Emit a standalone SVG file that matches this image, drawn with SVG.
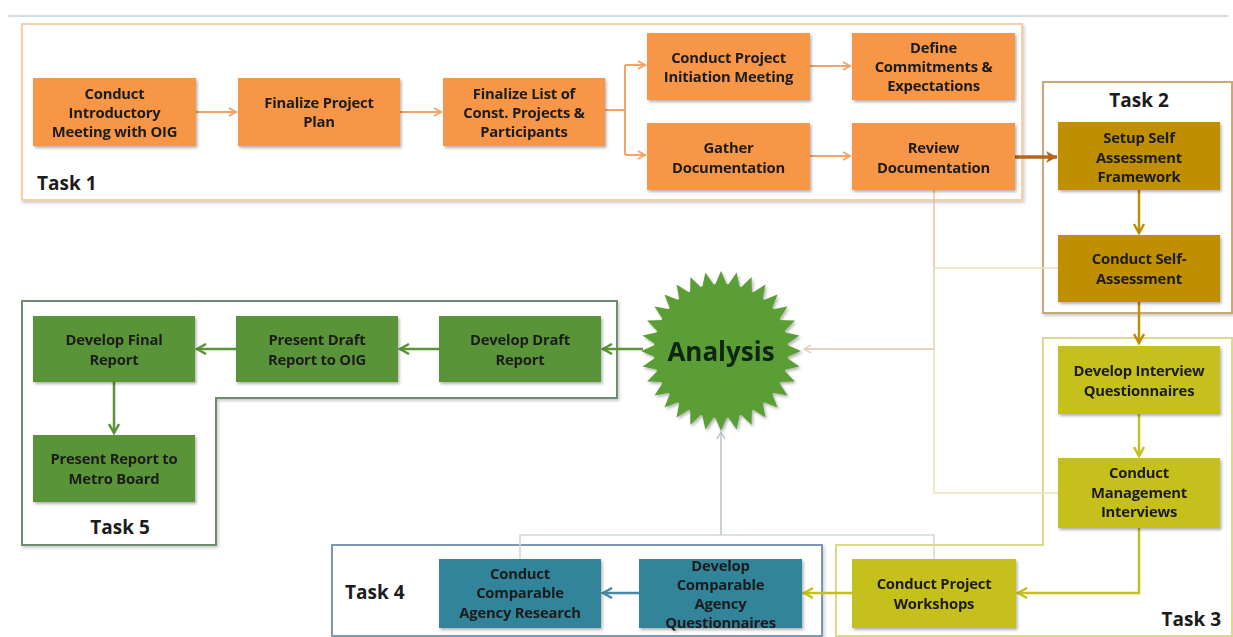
<svg xmlns="http://www.w3.org/2000/svg" xmlns:xlink="http://www.w3.org/1999/xlink" width="1233" height="637" viewBox="0 0 1233 637">
<style>
text{font-family:"Open Sans","Liberation Sans",sans-serif;font-weight:bold;fill:#1c1c1c;text-anchor:middle;dominant-baseline:central}
.t{font-size:14.8px;letter-spacing:-0.2px}
.lbl{font-size:19px}
.o{fill:#f79646}
.g2{fill:#bf8f00}
.g3{fill:#c5c01f}
.b4{fill:#31849b}
.g5{fill:#5a9437}
.box{filter:url(#sh)}
.cont{fill:#fff;stroke-width:2;filter:url(#sh2)}
.ln{fill:none}
</style>
<defs>
<filter id="sh" x="-10%" y="-10%" width="125%" height="130%"><feDropShadow dx="1.5" dy="2" stdDeviation="1.5" flood-color="#000" flood-opacity="0.3"/></filter>
<filter id="sh2" x="-5%" y="-5%" width="110%" height="115%"><feDropShadow dx="1.5" dy="2" stdDeviation="1.5" flood-color="#000" flood-opacity="0.2"/></filter>
<marker id="aO" markerWidth="10" markerHeight="10" refX="8" refY="5" orient="auto" markerUnits="userSpaceOnUse"><path d="M1,1 L8,5 L1,9" fill="none" stroke="#f4a467" stroke-width="2"/></marker>
<marker id="aBr" markerWidth="14" markerHeight="14" refX="12" refY="7" orient="auto" markerUnits="userSpaceOnUse"><path d="M1,1 L12,7 L1,13 L4,7 Z" fill="#b5651d"/></marker>
<marker id="aG2" markerWidth="12" markerHeight="12" refX="10" refY="6" orient="auto" markerUnits="userSpaceOnUse"><path d="M1,1 L10,6 L1,11" fill="none" stroke="#bf8f00" stroke-width="2.5"/></marker>
<marker id="aY" markerWidth="12" markerHeight="12" refX="10" refY="6" orient="auto" markerUnits="userSpaceOnUse"><path d="M1,1 L10,6 L1,11" fill="none" stroke="#c5c01f" stroke-width="2.5"/></marker>
<marker id="aB" markerWidth="12" markerHeight="12" refX="10" refY="6" orient="auto" markerUnits="userSpaceOnUse"><path d="M1,1 L10,6 L1,11" fill="none" stroke="#4a8aa5" stroke-width="2.5"/></marker>
<marker id="aGr" markerWidth="12" markerHeight="12" refX="10" refY="6" orient="auto" markerUnits="userSpaceOnUse"><path d="M1,1 L10,6 L1,11" fill="none" stroke="#5a9437" stroke-width="2.5"/></marker>
<marker id="aT" markerWidth="10" markerHeight="10" refX="8" refY="5" orient="auto" markerUnits="userSpaceOnUse"><path d="M1,1 L8,5 L1,9" fill="none" stroke="#ecd3b2" stroke-width="1.5"/></marker>
<marker id="aGy" markerWidth="10" markerHeight="10" refX="8" refY="5" orient="auto" markerUnits="userSpaceOnUse"><path d="M1,1 L8,5 L1,9" fill="none" stroke="#b9c2c8" stroke-width="1.5"/></marker>
<polygon id="spike" points="714.5,286 721,271 727.5,286" fill="#5a9e35"/>
</defs>
<rect width="1233" height="637" fill="#fff"/>
<line x1="8" y1="16" x2="1228" y2="16" stroke="#d5dde4" stroke-width="2"/>

<g id="task1">
<rect class="cont" x="22" y="24" width="1000" height="176" stroke="#f9cfa8"/>
<text class="lbl" x="37" y="183" style="text-anchor:start">Task 1</text>
</g>
<g id="task2">
<rect class="cont" x="1043" y="82" width="189" height="231" stroke="#c9a878"/>
<text class="lbl" x="1139" y="100">Task 2</text>
</g>
<g id="task3">
<polygon class="cont" points="1043,338 1232,338 1232,636 836,636 836,545 1043,545" stroke="#dcd98c"/>
<text class="lbl" x="1221" y="619" style="text-anchor:end">Task 3</text>
</g>
<g id="task4">
<rect class="cont" x="332" y="545" width="490" height="91" stroke="#7b97b4"/>
<text class="lbl" x="345" y="592" style="text-anchor:start">Task 4</text>
</g>
<g id="task5">
<polygon class="cont" points="22,301 617,301 617,398 216,398 216,545 22,545" stroke="#6f8c6f"/>
<text class="lbl" x="120" y="527">Task 5</text>
</g>

<g id="connectors">
<path class="ln" d="M196,112 H236" stroke="#f4a467" stroke-width="2" marker-end="url(#aO)"/>
<path class="ln" d="M400,112 H441" stroke="#f4a467" stroke-width="2" marker-end="url(#aO)"/>
<path class="ln" d="M605,110 H625 M625,65 V155" stroke="#f4a467" stroke-width="2"/>
<path class="ln" d="M625,65 H645" stroke="#f4a467" stroke-width="2" marker-end="url(#aO)"/>
<path class="ln" d="M625,155 H645" stroke="#f4a467" stroke-width="2" marker-end="url(#aO)"/>
<path class="ln" d="M810,66 H850" stroke="#f4a467" stroke-width="2" marker-end="url(#aO)"/>
<path class="ln" d="M810,156 H850" stroke="#f4a467" stroke-width="2" marker-end="url(#aO)"/>
<path class="ln" d="M1015,157 H1057" stroke="#b5651d" stroke-width="3.5" marker-end="url(#aBr)"/>
<path class="ln" d="M1139,190 V233" stroke="#bf8f00" stroke-width="2.5" marker-end="url(#aG2)"/>
<path class="ln" d="M1139,302 V343" stroke="#bf8f00" stroke-width="2.5" marker-end="url(#aG2)"/>
<path class="ln" d="M1139,414 V456" stroke="#c5c01f" stroke-width="2.5" marker-end="url(#aY)"/>
<path class="ln" d="M1139,528 V593 H1018" stroke="#c5c01f" stroke-width="2.5" marker-end="url(#aY)"/>
<path class="ln" d="M852,593 H804" stroke="#c5c01f" stroke-width="2.5" marker-end="url(#aY)"/>
<path class="ln" d="M639,593 H603" stroke="#4a8aa5" stroke-width="2.5" marker-end="url(#aB)"/>
<path class="ln" d="M643,349 H603" stroke="#5a9437" stroke-width="2.5" marker-end="url(#aGr)"/>
<path class="ln" d="M439,349 H400" stroke="#5a9437" stroke-width="2.5" marker-end="url(#aGr)"/>
<path class="ln" d="M236,349 H197" stroke="#5a9437" stroke-width="2.5" marker-end="url(#aGr)"/>
<path class="ln" d="M114,382 V433" stroke="#5a9437" stroke-width="2.5" marker-end="url(#aGr)"/>
<path class="ln" d="M934,190 V349 H804" stroke="#e2c3a2" stroke-width="1.5" marker-end="url(#aT)"/>
<path class="ln" d="M1058,268 H934 V493 H1058" stroke="#e6e2c0" stroke-width="1.5"/>
<path class="ln" d="M520,559 V535 H934 V559" stroke="#cfd6da" stroke-width="1.5"/>
<path class="ln" d="M721,535 V432" stroke="#b9c2c8" stroke-width="1.5" marker-end="url(#aGy)"/>
</g>

<g id="n-intro" class="box"><rect class="o" x="33" y="78" width="163" height="68"/><text class="t" x="114.5" y="93">Conduct</text><text class="t" x="114.5" y="112">Introductory</text><text class="t" x="114.5" y="131">Meeting with OIG</text></g>
<g id="n-plan" class="box"><rect class="o" x="238" y="78" width="162" height="68"/><text class="t" x="319" y="102">Finalize Project</text><text class="t" x="319" y="121">Plan</text></g>
<g id="n-list" class="box"><rect class="o" x="443" y="78" width="162" height="68"/><text class="t" x="524" y="93">Finalize List of</text><text class="t" x="524" y="112">Const. Projects &amp;</text><text class="t" x="524" y="131">Participants</text></g>
<g id="n-init" class="box"><rect class="o" x="647" y="33" width="163" height="67"/><text class="t" x="728.5" y="57">Conduct Project</text><text class="t" x="728.5" y="76">Initiation Meeting</text></g>
<g id="n-define" class="box"><rect class="o" x="852" y="33" width="163" height="67"/><text class="t" x="933.5" y="47">Define</text><text class="t" x="933.5" y="66">Commitments &amp;</text><text class="t" x="933.5" y="85">Expectations</text></g>
<g id="n-gather" class="box"><rect class="o" x="647" y="123" width="163" height="67"/><text class="t" x="728.5" y="147">Gather</text><text class="t" x="728.5" y="167">Documentation</text></g>
<g id="n-review" class="box"><rect class="o" x="852" y="123" width="163" height="67"/><text class="t" x="933.5" y="147">Review</text><text class="t" x="933.5" y="167">Documentation</text></g>

<g id="n-setup" class="box"><rect class="g2" x="1058" y="122" width="162" height="68"/><text class="t" x="1139" y="137">Setup Self</text><text class="t" x="1139" y="157">Assessment</text><text class="t" x="1139" y="176">Framework</text></g>
<g id="n-self" class="box"><rect class="g2" x="1058" y="235" width="162" height="67"/><text class="t" x="1139" y="258">Conduct Self-</text><text class="t" x="1139" y="278">Assessment</text></g>

<g id="n-devint" class="box"><rect class="g3" x="1058" y="346" width="162" height="68"/><text class="t" x="1139" y="370">Develop Interview</text><text class="t" x="1139" y="390">Questionnaires</text></g>
<g id="n-mgmt" class="box"><rect class="g3" x="1058" y="458" width="162" height="70"/><text class="t" x="1139" y="472">Conduct</text><text class="t" x="1139" y="492">Management</text><text class="t" x="1139" y="511">Interviews</text></g>
<g id="n-workshops" class="box"><rect class="g3" x="852" y="559" width="164" height="69"/><text class="t" x="934" y="583">Conduct Project</text><text class="t" x="934" y="603">Workshops</text></g>

<g id="n-devcomp" class="box"><rect class="b4" x="639" y="559" width="163" height="69"/><text class="t" x="720.5" y="565">Develop</text><text class="t" x="720.5" y="584">Comparable</text><text class="t" x="720.5" y="603">Agency</text><text class="t" x="720.5" y="622">Questionnaires</text></g>
<g id="n-research" class="box"><rect class="b4" x="439" y="559" width="162" height="69"/><text class="t" x="520" y="573">Conduct</text><text class="t" x="520" y="592">Comparable</text><text class="t" x="520" y="612">Agency Research</text></g>

<g id="n-draft" class="box"><rect class="g5" x="439" y="316" width="162" height="66"/><text class="t" x="520" y="339">Develop Draft</text><text class="t" x="520" y="359">Report</text></g>
<g id="n-present" class="box"><rect class="g5" x="236" y="316" width="162" height="66"/><text class="t" x="317" y="339">Present Draft</text><text class="t" x="317" y="359">Report to OIG</text></g>
<g id="n-final" class="box"><rect class="g5" x="33" y="316" width="162" height="66"/><text class="t" x="114" y="339">Develop Final</text><text class="t" x="114" y="359">Report</text></g>
<g id="n-board" class="box"><rect class="g5" x="33" y="435" width="162" height="67"/><text class="t" x="114" y="458">Present Report to</text><text class="t" x="114" y="478">Metro Board</text></g>

<g id="n-analysis" style="filter:url(#sh)">
<circle cx="721" cy="351" r="67" fill="#5a9e35"/>
<use xlink:href="#spike" transform="rotate(0 721 351)"/>
<use xlink:href="#spike" transform="rotate(11.25 721 351)"/>
<use xlink:href="#spike" transform="rotate(22.5 721 351)"/>
<use xlink:href="#spike" transform="rotate(33.75 721 351)"/>
<use xlink:href="#spike" transform="rotate(45 721 351)"/>
<use xlink:href="#spike" transform="rotate(56.25 721 351)"/>
<use xlink:href="#spike" transform="rotate(67.5 721 351)"/>
<use xlink:href="#spike" transform="rotate(78.75 721 351)"/>
<use xlink:href="#spike" transform="rotate(90 721 351)"/>
<use xlink:href="#spike" transform="rotate(101.25 721 351)"/>
<use xlink:href="#spike" transform="rotate(112.5 721 351)"/>
<use xlink:href="#spike" transform="rotate(123.75 721 351)"/>
<use xlink:href="#spike" transform="rotate(135 721 351)"/>
<use xlink:href="#spike" transform="rotate(146.25 721 351)"/>
<use xlink:href="#spike" transform="rotate(157.5 721 351)"/>
<use xlink:href="#spike" transform="rotate(168.75 721 351)"/>
<use xlink:href="#spike" transform="rotate(180 721 351)"/>
<use xlink:href="#spike" transform="rotate(191.25 721 351)"/>
<use xlink:href="#spike" transform="rotate(202.5 721 351)"/>
<use xlink:href="#spike" transform="rotate(213.75 721 351)"/>
<use xlink:href="#spike" transform="rotate(225 721 351)"/>
<use xlink:href="#spike" transform="rotate(236.25 721 351)"/>
<use xlink:href="#spike" transform="rotate(247.5 721 351)"/>
<use xlink:href="#spike" transform="rotate(258.75 721 351)"/>
<use xlink:href="#spike" transform="rotate(270 721 351)"/>
<use xlink:href="#spike" transform="rotate(281.25 721 351)"/>
<use xlink:href="#spike" transform="rotate(292.5 721 351)"/>
<use xlink:href="#spike" transform="rotate(303.75 721 351)"/>
<use xlink:href="#spike" transform="rotate(315 721 351)"/>
<use xlink:href="#spike" transform="rotate(326.25 721 351)"/>
<use xlink:href="#spike" transform="rotate(337.5 721 351)"/>
<use xlink:href="#spike" transform="rotate(348.75 721 351)"/>
<text x="721" y="351" style="font-size:26px;fill:#102810">Analysis</text>
</g>
</svg>
